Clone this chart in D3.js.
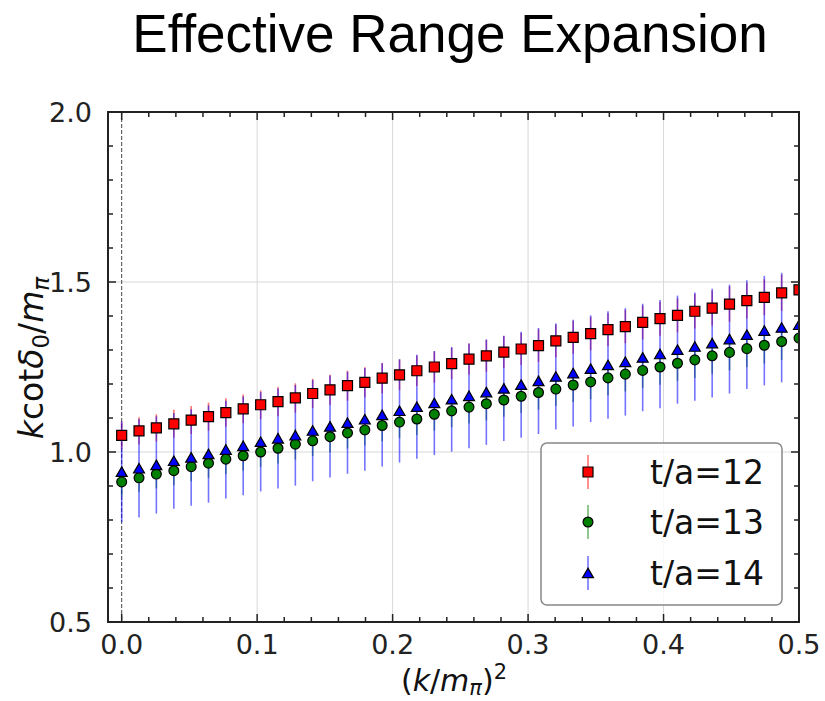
<!DOCTYPE html>
<html>
<head>
<meta charset="utf-8">
<script src="https://cdn.jsdelivr.net/npm/d3@7"></script>
<style>
    body { margin: 0; background: #fff; }
    .tick-label { font-family: "DejaVu Sans", sans-serif; font-size: 27px; fill: #222; }
    .axis-label { font-family: "DejaVu Sans", sans-serif; font-size: 33px; fill: #111; }
    .title { font-family: "Liberation Sans", Arial, sans-serif; font-size: 53px; fill: #000; }
    .legend-label { font-family: "DejaVu Sans", sans-serif; font-size: 33px; fill: #111; }
</style>
</head>
<body>
<div id="chart"></div>
<script>
// momentum points (k/m_pi)^2
var kSq = [0, 0.0128, 0.0256, 0.0385, 0.0513, 0.0641, 0.0769, 0.0897, 0.1026, 0.1154,
    0.1282, 0.1410, 0.1538, 0.1667, 0.1795, 0.1923, 0.2051, 0.2179, 0.2308, 0.2436,
    0.2564, 0.2692, 0.2821, 0.2949, 0.3077, 0.3205, 0.3333, 0.3462, 0.3590, 0.3718,
    0.3846, 0.3974, 0.4103, 0.4231, 0.4359, 0.4487, 0.4615, 0.4744, 0.4872, 0.5];

var t12 = [1.049, 1.062, 1.071, 1.083, 1.094, 1.104, 1.116, 1.127, 1.139, 1.148,
    1.159, 1.172, 1.183, 1.195, 1.205, 1.217, 1.227, 1.239, 1.250, 1.260,
    1.273, 1.283, 1.294, 1.303, 1.313, 1.327, 1.337, 1.348, 1.360, 1.369,
    1.381, 1.392, 1.402, 1.414, 1.423, 1.435, 1.445, 1.455, 1.468, 1.477];
var t12err = [0.040, 0.040, 0.040, 0.041, 0.041, 0.041, 0.042, 0.042, 0.042, 0.043,
    0.043, 0.043, 0.044, 0.044, 0.044, 0.045, 0.045, 0.045, 0.046, 0.046,
    0.046, 0.047, 0.047, 0.047, 0.048, 0.048, 0.048, 0.049, 0.049, 0.049,
    0.050, 0.050, 0.050, 0.051, 0.051, 0.052, 0.052, 0.053, 0.053, 0.054];

var t13 = [0.912, 0.924, 0.935, 0.945, 0.957, 0.967, 0.979, 0.989, 1.000, 1.011,
    1.023, 1.033, 1.045, 1.056, 1.065, 1.078, 1.088, 1.097, 1.111, 1.121,
    1.132, 1.142, 1.153, 1.164, 1.175, 1.185, 1.197, 1.206, 1.218, 1.229,
    1.240, 1.250, 1.261, 1.271, 1.283, 1.293, 1.304, 1.314, 1.325, 1.335];
var t13err = [0.042, 0.042, 0.042, 0.043, 0.043, 0.043, 0.044, 0.044, 0.044, 0.045,
    0.045, 0.045, 0.046, 0.046, 0.046, 0.047, 0.047, 0.047, 0.048, 0.048,
    0.048, 0.049, 0.049, 0.049, 0.050, 0.050, 0.050, 0.051, 0.051, 0.051,
    0.052, 0.052, 0.052, 0.053, 0.053, 0.053, 0.054, 0.054, 0.054, 0.055];

var t14 = [0.942, 0.952, 0.962, 0.974, 0.984, 0.994, 1.007, 1.018, 1.030, 1.040,
    1.049, 1.063, 1.075, 1.086, 1.096, 1.109, 1.121, 1.133, 1.144, 1.155,
    1.165, 1.176, 1.187, 1.198, 1.209, 1.222, 1.232, 1.245, 1.256, 1.265,
    1.278, 1.288, 1.301, 1.310, 1.320, 1.332, 1.345, 1.357, 1.366, 1.374];
var t14err = [0.148, 0.145, 0.143, 0.141, 0.142, 0.143, 0.144, 0.145, 0.146, 0.147,
    0.148, 0.149, 0.150, 0.150, 0.151, 0.152, 0.152, 0.153, 0.153, 0.154,
    0.154, 0.155, 0.155, 0.156, 0.156, 0.156, 0.157, 0.157, 0.158, 0.158,
    0.158, 0.159, 0.159, 0.159, 0.160, 0.160, 0.160, 0.161, 0.161, 0.161];

var seriesNames = ["t/a=12", "t/a=13", "t/a=14"];
var xTicks = [0.0, 0.1, 0.2, 0.3, 0.4, 0.5];
var yTicks = [0.5, 1.0, 1.5, 2.0];

function init() {
    var w = 825;
    var h = 701;
    var left = 108, right = 799, top = 112, bottom = 622;

    var svg = d3.select("#chart")
        .append("svg")
        .attr("width", w)
        .attr("height", h);

    var xScale = d3.scaleLinear().domain([-0.0101, 0.5]).range([left, right]);
    var yScale = d3.scaleLinear().domain([0.5, 2.0]).range([bottom, top]);

    svg.append("text")
        .attr("class", "title")
        .attr("x", 450)
        .attr("y", 52)
        .attr("text-anchor", "middle")
        .text("Effective Range Expansion");

    svg.append("clipPath").attr("id", "plotclip")
        .append("rect")
        .attr("x", left).attr("y", top)
        .attr("width", right - left).attr("height", bottom - top);

    // grid
    svg.append("g").selectAll("line")
        .data(xTicks.filter(function (d) { return d > 0 && d < 0.5; }))
        .enter().append("line")
        .attr("x1", function (d) { return xScale(d); })
        .attr("x2", function (d) { return xScale(d); })
        .attr("y1", top).attr("y2", bottom)
        .style("stroke", "#d8d8d8").style("stroke-width", 1);

    svg.append("g").selectAll("line")
        .data(yTicks.filter(function (d) { return d > 0.5 && d < 2.0; }))
        .enter().append("line")
        .attr("x1", left).attr("x2", right)
        .attr("y1", function (d) { return yScale(d); })
        .attr("y2", function (d) { return yScale(d); })
        .style("stroke", "#d8d8d8").style("stroke-width", 1);

    // dashed zero line
    svg.append("line")
        .attr("x1", xScale(0)).attr("x2", xScale(0))
        .attr("y1", top).attr("y2", bottom)
        .style("stroke", "#444")
        .style("stroke-width", 1)
        .style("stroke-dasharray", "4, 2");

    var series = [
        { name: seriesNames[0], vals: t12, errs: t12err, color: "#ff0000", shape: d3.symbolSquare, size: 100 },
        { name: seriesNames[1], vals: t13, errs: t13err, color: "#008000", shape: d3.symbolCircle, size: 76 },
        { name: seriesNames[2], vals: t14, errs: t14err, color: "#0000ff", shape: d3.symbolTriangle, size: 52 }
    ];

    var plot = svg.append("g").attr("clip-path", "url(#plotclip)");

    // error bars first
    series.forEach(function (s) {
        plot.append("g").selectAll("line")
            .data(kSq)
            .enter().append("line")
            .attr("x1", function (d) { return xScale(d); })
            .attr("x2", function (d) { return xScale(d); })
            .attr("y1", function (d, i) { return yScale(s.vals[i] - s.errs[i]); })
            .attr("y2", function (d, i) { return yScale(s.vals[i] + s.errs[i]); })
            .style("stroke", s.color)
            .style("stroke-opacity", 0.55)
            .style("stroke-width", 1.6);
    });

    // markers
    series.forEach(function (s) {
        plot.append("g").selectAll("path")
            .data(kSq)
            .enter().append("path")
            .attr("d", d3.symbol().type(s.shape).size(s.size))
            .attr("transform", function (d, i) {
                var dy = s.shape === d3.symbolTriangle ? 1.5 : 0;
                return `translate(${xScale(d)},${yScale(s.vals[i]) + dy})`;
            })
            .style("fill", s.color)
            .style("stroke", "#000")
            .style("stroke-width", 1.2);
    });

    // frame
    svg.append("rect")
        .attr("x", left).attr("y", top)
        .attr("width", right - left).attr("height", bottom - top)
        .style("fill", "none")
        .style("stroke", "#222")
        .style("stroke-width", 2);

    // ticks (inward, all four sides)
    var xMinor = d3.range(0, 0.5001, 0.02);
    var yMinor = d3.range(0.5, 2.0001, 0.1);
    function isMajor(v, list) {
        return list.some(function (t) { return Math.abs(t - v) < 1e-6; });
    }
    var tickG = svg.append("g").style("stroke", "#222").style("stroke-width", 1.5);
    xMinor.forEach(function (v) {
        var len = isMajor(v, xTicks) ? 8 : 5;
        tickG.append("line").attr("x1", xScale(v)).attr("x2", xScale(v))
            .attr("y1", bottom).attr("y2", bottom - len);
        tickG.append("line").attr("x1", xScale(v)).attr("x2", xScale(v))
            .attr("y1", top).attr("y2", top + len);
    });
    yMinor.forEach(function (v) {
        var len = isMajor(v, yTicks) ? 8 : 5;
        tickG.append("line").attr("x1", left).attr("x2", left + len)
            .attr("y1", yScale(v)).attr("y2", yScale(v));
        tickG.append("line").attr("x1", right).attr("x2", right - len)
            .attr("y1", yScale(v)).attr("y2", yScale(v));
    });

    svg.append("g").selectAll("text")
        .data(xTicks)
        .enter().append("text")
        .attr("class", "tick-label")
        .attr("x", function (d) { return xScale(d); })
        .attr("y", 654)
        .attr("text-anchor", "middle")
        .text(function (d) { return d3.format(".1f")(d); });

    svg.append("g").selectAll("text")
        .data(yTicks)
        .enter().append("text")
        .attr("class", "tick-label")
        .attr("x", 92)
        .attr("y", function (d) { return yScale(d); })
        .attr("dy", "0.36em")
        .attr("text-anchor", "end")
        .text(function (d) { return d3.format(".1f")(d); });

    // x label: (k/m_pi)^2
    var xl = svg.append("text")
        .attr("class", "axis-label")
        .style("font-size", "30px")
        .attr("x", 454)
        .attr("y", 691)
        .attr("text-anchor", "middle");
    xl.append("tspan").text("(");
    xl.append("tspan").style("font-style", "italic").text("k");
    xl.append("tspan").text("/");
    xl.append("tspan").style("font-style", "italic").text("m");
    xl.append("tspan").style("font-style", "italic").style("font-size", "21px").attr("dy", 4).text("π");
    xl.append("tspan").attr("dy", -4).text(")");
    xl.append("tspan").style("font-size", "21px").attr("dy", -12).text("2");

    // y label: k cot delta_0 / m_pi
    var yl = svg.append("text")
        .attr("class", "axis-label")
        .attr("transform", "translate(43,358) rotate(-90)")
        .attr("text-anchor", "middle");
    yl.append("tspan").style("font-style", "italic").text("k");
    yl.append("tspan").text("cot");
    yl.append("tspan").style("font-style", "italic").text("δ");
    yl.append("tspan").style("font-size", "23px").attr("dy", 6).text("0");
    yl.append("tspan").attr("dy", -6).text("/");
    yl.append("tspan").style("font-style", "italic").text("m");
    yl.append("tspan").style("font-style", "italic").style("font-size", "23px").attr("dy", 6).text("π");

    // legend
    var lg = svg.append("g");
    lg.append("rect")
        .attr("x", 541).attr("y", 443)
        .attr("width", 241).attr("height", 162)
        .attr("rx", 6).attr("ry", 6)
        .style("fill", "#fff").style("fill-opacity", 0.8)
        .style("stroke", "#888").style("stroke-width", 1.5);

    var legendY = [472, 522, 573];
    series.forEach(function (s, i) {
        lg.append("line")
            .attr("x1", 588).attr("x2", 588)
            .attr("y1", legendY[i] - 17).attr("y2", legendY[i] + 17)
            .style("stroke", s.color).style("stroke-opacity", 0.55).style("stroke-width", 1.6);
        lg.append("path")
            .attr("d", d3.symbol().type(s.shape).size(s.size))
            .attr("transform", `translate(588,${legendY[i] + (s.shape === d3.symbolTriangle ? 1.5 : 0)})`)
            .style("fill", s.color).style("stroke", "#000").style("stroke-width", 1.2);
        lg.append("text")
            .attr("class", "legend-label")
            .attr("x", 650)
            .attr("y", legendY[i])
            .attr("dy", "0.36em")
            .text(s.name);
    });
}

window.onload = init;
</script>
</body>
</html>
